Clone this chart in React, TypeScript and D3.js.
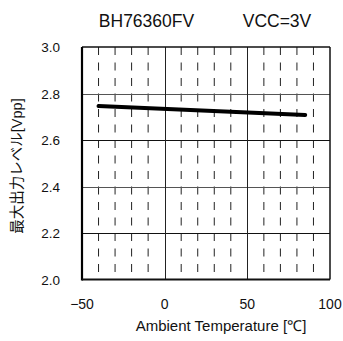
import React from "react";
import * as d3 from "d3";

const temps = [-40, 85];
const levels = [2.746, 2.708];
const xTicks = [-50, 0, 50, 100];
const yTicks = [2.0, 2.2, 2.4, 2.6, 2.8, 3.0];
const minorX = [-40, -30, -20, -10, 10, 20, 30, 40, 60, 70, 80, 90];
const title1 = "BH76360FV";
const title2 = "VCC=3V";
const xLabel = "Ambient Temperature [℃]";
const yLabel = "最大出力レベル[Vpp]";

export default function App() {
  const W = 343, H = 341;
  const left = 82, right = 330, top = 47, bottom = 279.5;
  const x = d3.scaleLinear().domain([-50, 100]).range([left, right]);
  const y = d3.scaleLinear().domain([2.0, 3.0]).range([bottom, top]);
  const line = d3.line<number>().x((_, i) => x(temps[i])).y((d) => y(d));
  const font = "'Liberation Sans', Arial, sans-serif";
  return (
    <svg width={W} height={H} style={{ position: "absolute", left: 0, top: 0, background: "#fff" }}>
      <rect x={0} y={0} width={W} height={H} fill="#fff" />
      {minorX.map((t) => (
        <line key={"m" + t} x1={x(t)} x2={x(t)} y1={top} y2={bottom} stroke="#222" strokeWidth={1} strokeDasharray="8,7.5" />
      ))}
      {yTicks.slice(1, -1).map((t, i) => (
        <line key={"h" + t} x1={left} x2={right} y1={Math.round(y(t)) + 0.5} y2={Math.round(y(t)) + 0.5}
          stroke={i % 2 === 0 ? "#111" : "#555"} strokeWidth={1} />
      ))}
      {[0, 50].map((t) => (
        <line key={"v" + t} x1={Math.round(x(t)) + 0.5} x2={Math.round(x(t)) + 0.5} y1={top} y2={bottom} stroke="#222" strokeWidth={1} />
      ))}
      <line x1={left} x2={right} y1={top} y2={top} stroke="#111" strokeWidth={1.5} />
      <line x1={right} x2={right} y1={top} y2={bottom} stroke="#111" strokeWidth={1.5} />
      <line x1={left} x2={left} y1={top} y2={bottom + 1} stroke="#000" strokeWidth={2.2} />
      <line x1={left} x2={right} y1={bottom} y2={bottom} stroke="#111" strokeWidth={2} />
      <path d={line(levels) || ""} fill="none" stroke="#000" strokeWidth={4} strokeLinecap="round" />
      {yTicks.map((t) => (
        <text key={"yl" + t} x={60} y={y(t) + 5} textAnchor="end" fontFamily={font} fontSize={13.5} fill="#111">
          {t.toFixed(1)}
        </text>
      ))}
      {xTicks.map((t) => (
        <text key={"xl" + t} x={x(t)} y={308.5} textAnchor="middle" fontFamily={font} fontSize={14} fill="#111">
          {t < 0 ? "\u2212" + Math.abs(t) : String(t)}
        </text>
      ))}
      <text x={146.5} y={26.5} textAnchor="middle" fontFamily={font} fontSize={17.5} fill="#111">{title1}</text>
      <text x={277} y={26.5} textAnchor="middle" fontFamily={font} fontSize={17.5} fill="#111">{title2}</text>
      <text x={221} y={331} textAnchor="middle" fontFamily={font} fontSize={15} fill="#111">{xLabel}</text>
      <text transform={`translate(22,166) rotate(-90)`} textAnchor="middle" fontFamily={`${font}, 'Noto Sans CJK JP'`} fontSize={14.5} fill="#111">{yLabel}</text>
    </svg>
  );
}
